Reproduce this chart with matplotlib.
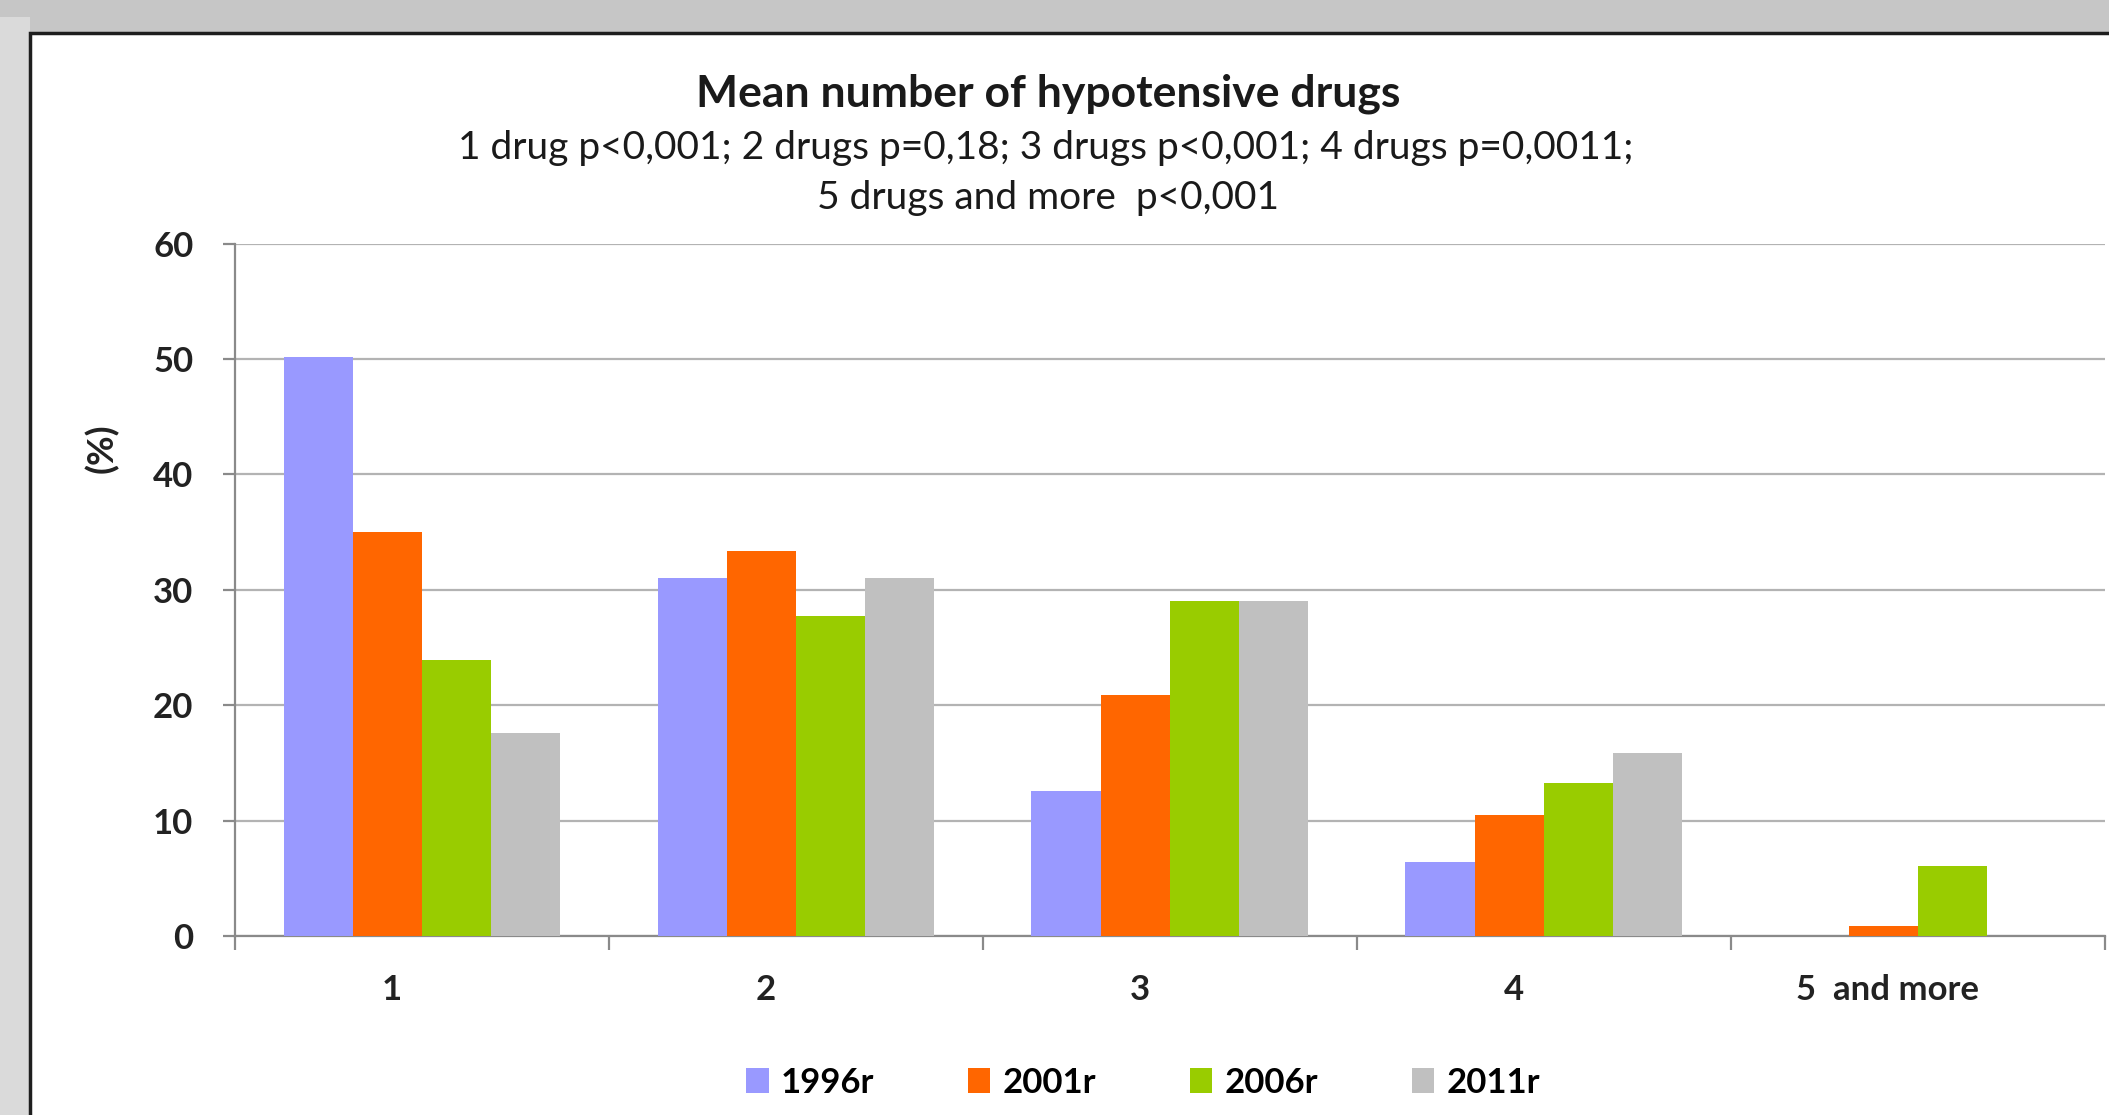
import matplotlib.pyplot as plt
import numpy as np
from matplotlib.patches import Rectangle

plt.rcParams["font.family"] = ["Lato", "DejaVu Sans"]

categories = ["1", "2", "3", "4", "5  and more"]
years = ["1996r", "2001r", "2006r", "2011r"]
share_1996 = [50.2, 31.0, 12.6, 6.4, 0.0]
share_2001 = [35.0, 33.4, 20.9, 10.5, 0.9]
share_2006 = [23.9, 27.7, 29.0, 13.3, 6.1]
share_2011 = [17.6, 31.0, 29.0, 15.9, 0.0]
colors = ["#9999ff", "#ff6600", "#99cc00", "#c0c0c0"]

fig = plt.figure(figsize=(21.09, 11.15), dpi=100)
fig.patch.set_facecolor("#c6c6c6")

# lighter strip on the left, then the white panel with a dark frame
fig.patches.append(Rectangle((0, 0), 0.0142, 0.985, transform=fig.transFigure,
                             facecolor="#dadada", edgecolor="none", zorder=-3))
fig.patches.append(Rectangle((0.0142, -0.05), 1.1, 0.9704 + 0.05, transform=fig.transFigure,
                             facecolor="white", edgecolor="#1e1e1e", linewidth=2.5, zorder=-2))

ax = fig.add_axes([0.1114, 0.1605, 0.8866, 0.6211])
ax.set_facecolor("none")

x = np.arange(len(categories))
w = 0.185
series = [share_1996, share_2001, share_2006, share_2011]
bars = []
for i, (vals, col) in enumerate(zip(series, colors)):
    b = ax.bar(x + (i - 1.5) * w, vals, width=w, color=col, label=years[i], zorder=3)
    bars.append(b)

ax.set_xlim(-0.5, len(categories) - 0.5)
ax.set_ylim(0, 60)
ax.set_yticks(range(0, 61, 10))
ax.yaxis.grid(True, color="#b3b3b3", linewidth=1.6, zorder=0)
ax.set_axisbelow(True)

for s in ["top", "right"]:
    ax.spines[s].set_visible(False)
for s in ["left", "bottom"]:
    ax.spines[s].set_color("#8a8a8a")
    ax.spines[s].set_linewidth(1.6)

# category labels sit a little left of the group centres
ax.set_xticks(x - 0.08)
ax.set_xticklabels(categories, fontsize=25, fontweight="bold", color="#222222")
ax.set_xticks(np.arange(-0.5, len(categories), 1.0), minor=True)
ax.tick_params(axis="x", which="major", length=0, pad=27)
ax.tick_params(axis="x", which="minor", length=10, width=1.6, color="#8a8a8a")
ax.tick_params(axis="y", length=9, width=1.6, color="#8a8a8a", pad=21,
               labelsize=25, labelcolor="#222222")
for lbl in ax.get_yticklabels():
    lbl.set_fontweight("bold")

fig.text(0.048, 0.598, "(%)", rotation=90, fontsize=26, fontweight="bold",
         color="#222222", ha="center", va="center")

fig.text(0.497, 0.916, "Mean number of hypotensive drugs", fontsize=32,
         fontweight="bold", color="#1a1a1a", ha="center", va="center")
fig.text(0.496, 0.867, "1 drug p<0,001; 2 drugs p=0,18; 3 drugs p<0,001; 4 drugs p=0,0011;",
         fontsize=28, color="#1a1a1a", ha="center", va="center")
fig.text(0.497, 0.822, "5 drugs and more  p<0,001", fontsize=28, color="#1a1a1a",
         ha="center", va="center")

fig.legend(handles=bars, labels=years, loc="center", bbox_to_anchor=(0.542, 0.029),
           ncol=4, frameon=False, handlelength=0.65, handleheight=0.75,
           handletextpad=0.35, columnspacing=2.7, prop={"weight": "bold", "size": 25})

fig.savefig("out.png", dpi=100, facecolor=fig.get_facecolor())
